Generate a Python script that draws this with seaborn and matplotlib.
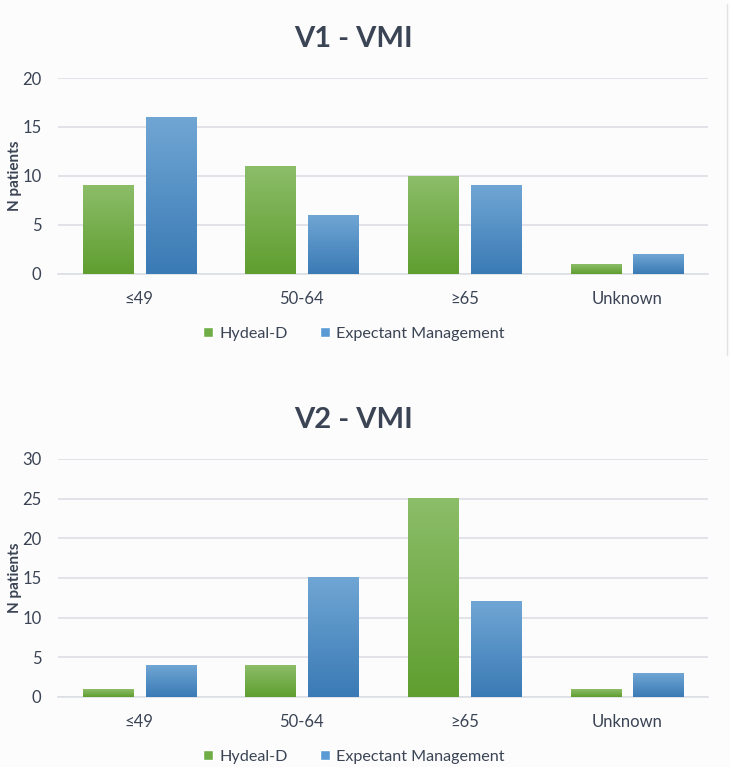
import numpy as np
import pandas as pd
import matplotlib
matplotlib.use("Agg")
import matplotlib.pyplot as plt
import matplotlib.colors as mcolors
from matplotlib.patches import Patch
from matplotlib.lines import Line2D
import seaborn as sns

age_groups = ["≤49", "50-64", "≥65", "Unknown"]
treatments = ["Hydeal-D", "Expectant Management"]
v1_hydeal = [9, 11, 10, 1]
v1_expectant = [16, 6, 9, 2]
v2_hydeal = [1, 4, 25, 1]
v2_expectant = [4, 15, 12, 3]

base_colors = {"Hydeal-D": "#70ad47", "Expectant Management": "#5b9bd5"}
# (top, bottom) of the vertical gradient in each bar
grad_colors = [("#8cbd69", "#5f9e2f"), ("#70a6d4", "#3a7ab5")]

sns.set_theme(style="white")
plt.rcParams["font.family"] = ["Lato", "DejaVu Sans"]
text_color = "#3a4454"


def make_frame(hyd, exp):
    rows = []
    for g, h, e in zip(age_groups, hyd, exp):
        rows.append({"age": g, "group": treatments[0], "n": h})
        rows.append({"age": g, "group": treatments[1], "n": e})
    return pd.DataFrame(rows)


def gradient_bars(ax):
    # seaborn adds the bars hue level by hue level
    n = len(age_groups)
    for i, bar in enumerate(ax.patches):
        top, bottom = grad_colors[i // n]
        cmap = mcolors.LinearSegmentedColormap.from_list("g", [bottom, top])
        x0, y0 = bar.get_x(), bar.get_y()
        w, h = bar.get_width(), bar.get_height()
        grad = np.linspace(0, 1, 256).reshape(-1, 1)
        ax.imshow(grad, extent=(x0, x0 + w, y0, y0 + h), origin="lower",
                  cmap=cmap, aspect="auto", zorder=3)
        bar.set_alpha(0)


def draw_panel(ax, hyd, exp, title, ymax, step, h_px):
    df = make_frame(hyd, exp)
    sns.barplot(data=df, x="age", y="n", hue="group", palette=base_colors,
                saturation=1, width=0.77, gap=0.2, ax=ax, legend=False, zorder=3)
    gradient_bars(ax)
    ax.set_xlim(-0.5, 3.5)
    ax.set_ylim(0, ymax)
    ax.set_yticks(np.arange(0, ymax + 1, step))
    ax.grid(axis="y", color="#dcdfe4", linewidth=1.2, zorder=0)
    ax.set_axisbelow(True)
    for s in ["top", "right", "left"]:
        ax.spines[s].set_visible(False)
    ax.spines["bottom"].set_color("#dcdfe4")
    ax.spines["bottom"].set_linewidth(1.2)
    ax.tick_params(axis="both", length=0, labelsize=12, colors=text_color)
    ax.tick_params(axis="x", pad=12)
    ax.tick_params(axis="y", pad=12)
    ax.set_xlabel("")
    ax.set_ylabel("N patients", fontsize=11, fontweight="bold", color=text_color)
    ax.yaxis.set_label_coords(-0.055, 0.5)
    ax.set_title(title, fontsize=21, fontweight="bold", color=text_color, pad=22, x=0.455)
    handles = [Patch(facecolor=base_colors[t], label=t) for t in treatments]
    ax.legend(handles=handles, loc="center", bbox_to_anchor=(0.455, -60 / h_px),
              ncol=2, frameon=False, fontsize=11.6, handlelength=0.6, handleheight=0.6,
              columnspacing=2.0, handletextpad=0.4, labelcolor=text_color)


fig = plt.figure(figsize=(7.3, 7.67), dpi=100, facecolor="#fdfcfd")
ax1 = fig.add_axes([0.0795, 0.6428, 0.8905, 0.2555])
ax2 = fig.add_axes([0.0795, 0.0913, 0.8905, 0.3103])
for a in (ax1, ax2):
    a.set_facecolor("#fdfcfd")

draw_panel(ax1, v1_hydeal, v1_expectant, "V1 - VMI", 20, 5, 196)
draw_panel(ax2, v2_hydeal, v2_expectant, "V2 - VMI", 30, 5, 238)

# thin frame edge on the right of the upper chart
fig.add_artist(Line2D([0.996, 0.996], [0.537, 0.995], transform=fig.transFigure,
                      color="#e2e2e4", linewidth=1))

fig.savefig("out.png", dpi=100, facecolor=fig.get_facecolor())
